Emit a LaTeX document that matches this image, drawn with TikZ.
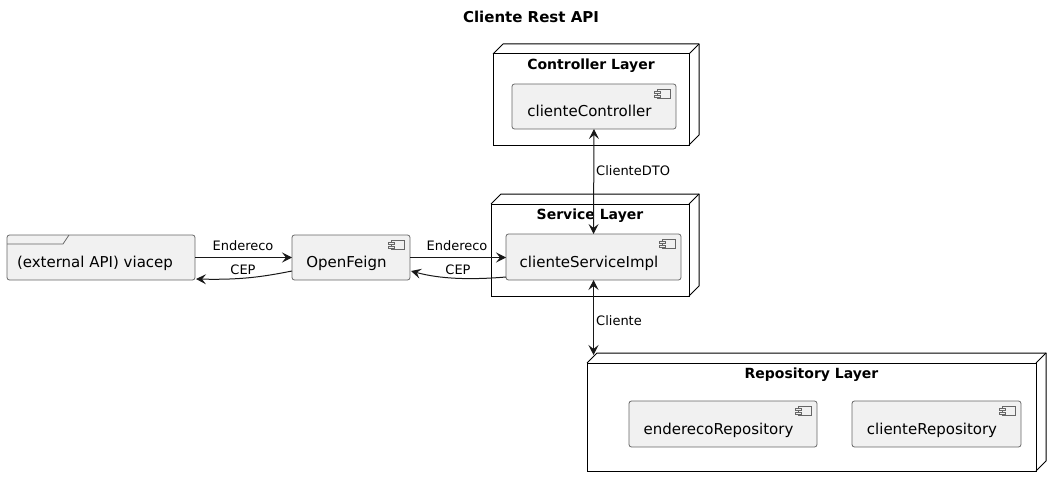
\documentclass[tikz,border=0pt]{standalone}
\usepackage{fontspec}
\setmainfont{DejaVu Sans}
\usetikzlibrary{arrows.meta,calc}
\definecolor{compfill}{HTML}{F1F1F1}
\definecolor{lnk}{HTML}{181818}
\tikzset{
  compbox/.style={draw=black!60, line width=0.8pt, fill=compfill, rounded corners=2.5pt, inner sep=0pt, outer sep=0pt},
  comptext/.style={inner sep=0pt, font=\fontsize{15}{18}\selectfont, text=black, anchor=base},
  compicon/.style={draw=black!60, line width=0.6pt, fill=compfill},
  layerbox/.style={draw=black, line width=1pt, inner sep=0pt, outer sep=0pt},
  layerline/.style={draw=black, line width=1pt, line join=round},
  layertitle/.style={inner sep=0pt, font=\bfseries\fontsize{14}{17}\selectfont, anchor=base},
  lbl/.style={inner sep=0pt, font=\fontsize{13}{15}\selectfont},
  conn/.style={draw=lnk, line width=1pt},
  tip/.tip={Stealth[length=10pt,width=10pt,inset=4pt]},
}
\newcommand\mycomp[6]{%
  \node[compbox, minimum width=#4pt, minimum height=#5pt] (#1) at (#2,#3) {};
  \node[comptext] (#1-t) at ($(#1.center)+(-4.5,10)$) {#6};
  \draw[compicon] ($(#1.north east)+(-19,5)$) rectangle ($(#1.north east)+(-6,14)$);
  \draw[compicon] ($(#1.north east)+(-22,7)$) rectangle ($(#1.north east)+(-16,9)$);
  \draw[compicon] ($(#1.north east)+(-22,11)$) rectangle ($(#1.north east)+(-16,13)$);
}
\newcommand\mylayer[6]{%
  \node[layerbox, minimum width=#4pt, minimum height=#5pt] (#1) at (#2,#3) {};
  \draw[layerline] (#1.north west) -- ++(10,-10) -- ($(#1.north east)+(10,-10)$) -- ($(#1.south east)+(10,-10)$) -- (#1.south east);
  \draw[layerline] (#1.north east) -- ++(10,-10);
  \node[layertitle] (#1-t) at ($(#1.north)+(0,15.5)$) {#6};
}
\begin{document}
\begin{tikzpicture}[x=1pt,y=-1pt]
\useasboundingbox (0,0) rectangle (1061,487);
\node[inner sep=0pt, font=\bfseries\fontsize{15}{18}\selectfont, anchor=base] (title) at (531,23) {Cliente Rest API};

% layers
\mylayer{ctl}{591}{99.5}{196}{91}{Controller Layer}
\mylayer{svc}{590}{250}{198}{92}{Service Layer}
\mylayer{rep}{811.5}{417}{449}{108}{Repository Layer}

% components
\mycomp{cc}{594}{106.5}{164}{45}{clienteController}
\mycomp{si}{593.5}{257}{175}{46}{clienteServiceImpl}
\mycomp{of}{351}{257.5}{118}{45}{OpenFeign}
\mycomp{er}{723}{424}{188}{46}{enderecoRepository}
\mycomp{cr}{936.5}{424}{169}{46}{clienteRepository}

% external API frame
\node[compbox, minimum width=188pt, minimum height=45pt] (vc) at (101,257.5) {};
\node[comptext] (vc-t) at ($(vc.center)+(-6,10)$) {(external API) viacep};
\draw[draw=black!60, line width=0.8pt] ($(vc.north west)+(0,9)$) -- ++(56,0) -- ($(vc.north west)+(62,0)$);

% connectors
\draw[conn, -tip] (vc.east) -- (of.west);
\node[lbl, anchor=base] (l1) at (243,250) {Endereco};
\draw[conn, -tip] ($(of.south west)+(0,-9)$) .. controls (262,277) and (240,280) .. ($(vc.south east)+(1,-1)$);
\node[lbl, anchor=base] (l2) at (243,274) {CEP};

\draw[conn, -tip] (of.east) -- (si.west |- of.east);
\node[lbl, anchor=base] (l3) at (457,250) {Endereco};
\draw[conn, -tip] ($(si.south west)+(0,-3)$) .. controls (470,280) and (440,279) .. ($(of.south east)+(1,-9)$);
\node[lbl, anchor=base] (l4) at (458,274) {CEP};

\draw[conn, tip-tip] (cc.south) -- (si.north);
\node[lbl, anchor=base west] (l5) at (596,175) {ClienteDTO};

\coordinate (rtop) at (593.5,355);
\draw[conn, tip-tip] (si.south) -- (rtop);
\node[lbl, anchor=base west] (l6) at (596,325) {Cliente};
\end{tikzpicture}
\end{document}
